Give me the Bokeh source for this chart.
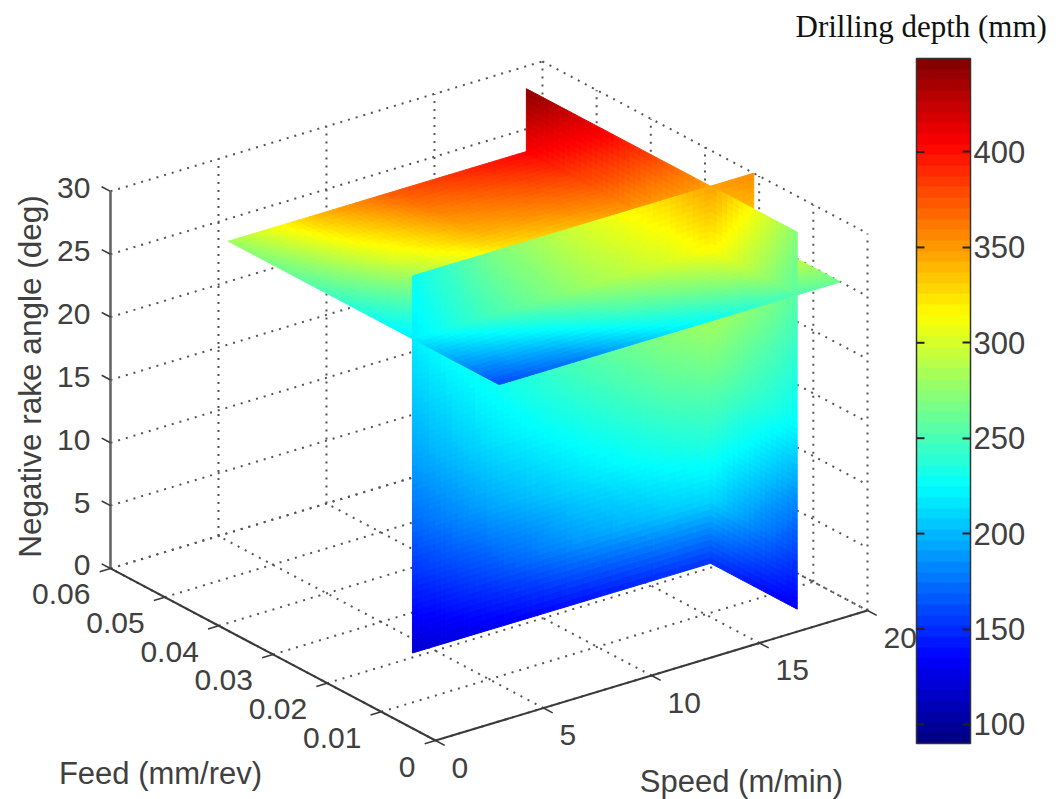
import numpy as np
from bokeh.plotting import figure
from bokeh.embed import file_html
from bokeh.resources import INLINE
from bokeh.core.properties import value
from bokeh.models import ColorBar, FixedTicker, LinearColorMapper, ColumnDataSource
from bokeh.transform import transform

# ---------- axis ticks ----------
speed_ticks = [0, 5, 10, 15, 20]
feed_ticks = [0, 0.01, 0.02, 0.03, 0.04, 0.05, 0.06]
angle_ticks = [0, 5, 10, 15, 20, 25, 30]
speed_labels = ["0", "5", "10", "15", "20"]
feed_labels = ["0", "0.01", "0.02", "0.03", "0.04", "0.05", "0.06"]
angle_labels = ["0", "5", "10", "15", "20", "25", "30"]
depth_ticks = [100, 150, 200, 250, 300, 350, 400]
depth_low, depth_high = 90, 449

# ---------- slice positions ----------
speed_slice = 18
feed_slice = 0.021
angle_slice = 25

# ---------- drilling depth ----------
speed_nodes = [4.2, 8, 12, 16, 18, 20]
feed_nodes = [0.005, 0.013, 0.021, 0.03, 0.04, 0.055]
angle_nodes = [0, 5, 10, 15, 20, 25, 30]

# feed = feed_slice: rows angle, columns speed
depth_feed_slice = [
    [118, 130, 140, 150, 152, 155],
    [145, 165, 190, 205, 210, 212],
    [170, 195, 215, 232, 238, 240],
    [190, 215, 235, 255, 262, 265],
    [205, 230, 255, 275, 285, 290],
    [218, 250, 278, 300, 315, 325],
    [228, 268, 300, 328, 348, 355],
]
# speed = speed_slice: rows angle, columns feed
depth_speed_slice = [
    [130, 140, 152, 165, 180, 200],
    [160, 185, 210, 225, 240, 260],
    [192, 215, 238, 255, 270, 295],
    [225, 243, 262, 280, 300, 330],
    [240, 262, 285, 305, 330, 365],
    [255, 285, 315, 335, 365, 405],
    [272, 310, 348, 375, 405, 445],
]
# angle = angle_slice: rows feed, columns speed
depth_angle_slice = [
    [160, 178, 213, 240, 252, 262],
    [190, 215, 248, 272, 285, 292],
    [218, 250, 278, 300, 315, 325],
    [235, 270, 305, 325, 335, 345],
    [255, 300, 340, 358, 365, 372],
    [280, 335, 375, 395, 405, 415],
]

speed_max, feed_max, angle_max = speed_ticks[-1], feed_ticks[-1], angle_ticks[-1]


def jet(n):
    t = (np.arange(n) + 0.5) / n
    r = np.clip(np.minimum(4 * t - 1.5, -4 * t + 4.5), 0, 1)
    g = np.clip(np.minimum(4 * t - 0.5, -4 * t + 3.5), 0, 1)
    b = np.clip(np.minimum(4 * t + 0.5, -4 * t + 2.5), 0, 1)
    return ["#%02x%02x%02x" % (round(a * 255), round(c * 255), round(d * 255)) for a, c, d in zip(r, g, b)]


def px(s, f, z):
    """Orthographic projection of (speed, feed, angle) on the page."""
    s, f, z = np.asarray(s, float), np.asarray(f, float), np.asarray(z, float)
    return 435 + 21.6 * s - 5417 * f, 740 - 6.5 * s - 2867 * f - 12.57 * z


WIDTH, HEIGHT = 1060, 799
p = figure(width=WIDTH, height=HEIGHT, x_range=(0, WIDTH), y_range=(HEIGHT, 0),
           output_backend="svg", toolbar_location=None,
           x_axis_location=None, y_axis_location=None, min_border=0, outline_line_color=None)
p.grid.visible = False

# ---------- dotted box ----------
DOT = dict(line_color="#555555", line_width=2, line_dash="2 6")


def seg(a, b, **kw):
    a = np.array(a, float).T
    b = np.array(b, float).T
    x0, y0 = px(*a)
    x1, y1 = px(*b)
    p.segment(x0, y0, x1, y1, **kw)


seg([(s, 0, 0) for s in speed_ticks], [(s, feed_max, 0) for s in speed_ticks], **DOT)
seg([(0, f, 0) for f in feed_ticks], [(speed_max, f, 0) for f in feed_ticks], **DOT)
seg([(0, feed_max, z) for z in angle_ticks], [(speed_max, feed_max, z) for z in angle_ticks], **DOT)
seg([(speed_max, feed_max, z) for z in angle_ticks], [(speed_max, 0, z) for z in angle_ticks], **DOT)
seg([(s, feed_max, 0) for s in speed_ticks[1:]], [(s, feed_max, angle_max) for s in speed_ticks[1:]], **DOT)
seg([(speed_max, f, 0) for f in feed_ticks[:-1]], [(speed_max, f, angle_max) for f in feed_ticks[:-1]], **DOT)

# ---------- slices, painted back to front ----------
mapper = LinearColorMapper(palette=jet(256), low=depth_low, high=depth_high)
STEP = 6.0


def nodes(lo, hi, scale):
    n = max(1, int(round(abs(hi - lo) * scale / STEP)))
    return np.linspace(lo, hi, n + 1)


def shaded(table, rows, cols, r_lo, r_hi, c_lo, c_hi, r_scale, c_scale, to3d):
    """Gouraud-like shading of one slice piece between its table nodes."""
    table = np.array(table, float)
    rr, cc = nodes(r_lo, r_hi, r_scale), nodes(c_lo, c_hi, c_scale)
    by_col = np.array([np.interp(cc, cols, row) for row in table])
    vals = np.array([np.interp(rr, rows, by_col[:, j]) for j in range(len(cc))]).T
    xs, ys, ds = [], [], []
    for i in range(len(rr) - 1):
        for j in range(len(cc) - 1):
            rq = [rr[i], rr[i], rr[i + 1], rr[i + 1]]
            cq = [cc[j], cc[j + 1], cc[j + 1], cc[j]]
            x, y = px(*to3d(np.array(rq), np.array(cq)))
            xs.append(x.tolist())
            ys.append(y.tolist())
            ds.append((vals[i, j] + vals[i, j + 1] + vals[i + 1, j] + vals[i + 1, j + 1]) / 4)
    src = ColumnDataSource(dict(xs=xs, ys=ys, d=ds))
    c = transform("d", mapper)
    p.patches("xs", "ys", source=src, fill_color=c, line_color=c, line_width=1)


S_SCALE, F_SCALE, Z_SCALE = 22.5, 6000.0, 12.57
s0, s1 = speed_nodes[0], speed_nodes[-1]
f0, f1 = feed_nodes[0], feed_nodes[-1]
z0, z1 = angle_nodes[0], angle_nodes[-1]


def s_piece(z_a, z_b, f_a, f_b):
    shaded(depth_speed_slice, angle_nodes, feed_nodes, z_a, z_b, f_a, f_b, Z_SCALE, F_SCALE,
           lambda r, c: (np.full(4, speed_slice), c, r))


def f_piece(z_a, z_b, s_a, s_b):
    shaded(depth_feed_slice, angle_nodes, speed_nodes, z_a, z_b, s_a, s_b, Z_SCALE, S_SCALE,
           lambda r, c: (c, np.full(4, feed_slice), r))


def a_piece(f_a, f_b, s_a, s_b):
    shaded(depth_angle_slice, feed_nodes, speed_nodes, f_a, f_b, s_a, s_b, F_SCALE, S_SCALE,
           lambda r, c: (c, r, np.full(4, angle_slice)))


# below the horizontal slice
s_piece(z0, angle_slice, feed_slice, f1)
f_piece(z0, angle_slice, speed_slice, s1)
f_piece(z0, angle_slice, s0, speed_slice)
s_piece(z0, angle_slice, f0, feed_slice)
# horizontal slice
a_piece(f0, f1, s0, s1)
# above the horizontal slice
s_piece(angle_slice, z1, feed_slice, f1)
f_piece(angle_slice, z1, speed_slice, s1)
f_piece(angle_slice, z1, s0, speed_slice)
s_piece(angle_slice, z1, f0, feed_slice)

# ---------- axes ----------
AX = dict(line_color="#3a3a3a", line_width=2)
seg([(0, feed_max, 0)], [(0, feed_max, angle_max)], line_color="#666666", line_width=2.6)
seg([(0, feed_max, 0)], [(0, 0, 0)], **AX)
seg([(0, 0, 0)], [(speed_max, 0, 0)], **AX)
TICK = dict(line_color="#3a3a3a", line_width=1.6)
seg([(0, feed_max, z) for z in angle_ticks], [(0, feed_max * 1.027, z) for z in angle_ticks], **TICK)
seg([(0, f, 0) for f in feed_ticks], [(-0.5, f, 0) for f in feed_ticks], **TICK)
seg([(s, 0, 0) for s in speed_ticks], [(s, -0.0017, 0) for s in speed_ticks], **TICK)

TXT = dict(text_font=value("Liberation Sans"), text_font_size="30px", text_color="#404040",
           text_baseline="middle")
xt, yt = px(np.zeros(len(angle_ticks)), np.full(len(angle_ticks), feed_max), angle_ticks)
p.text(xt - 20, yt - 3, text=angle_labels, text_align="right", **TXT)
xt, yt = px(np.zeros(len(feed_ticks)), feed_ticks, np.zeros(len(feed_ticks)))
p.text(xt - 20, yt + 26, text=feed_labels, text_align="right", **TXT)
xt, yt = px(speed_ticks, np.zeros(len(speed_ticks)), np.zeros(len(speed_ticks)))
p.text(xt + 16, yt + 27, text=speed_labels, text_align="left", **TXT)

LAB = dict(TXT)
LAB["text_font_size"] = "31px"
p.text([160], [773], text=["Feed (mm/rev)"], text_align="center", **LAB)
p.text([741], [781], text=["Speed (m/min)"], text_align="center", **LAB)
LAB2 = dict(LAB)
LAB2["text_font_size"] = "31.5px"
p.text([29], [376], text=["Negative rake angle (deg)"], text_align="center", angle=np.pi / 2, **LAB2)
p.text([795], [26], text=["Drilling depth (mm)"], text_align="left", text_baseline="middle",
       text_font=value("Liberation Serif"), text_font_size="31px", text_color="#111111")

# ---------- colour bar ----------
BAR_LEFT, BAR_RIGHT, BAR_TOP, BAR_BOTTOM = 916, 970, 58, 743
bar_mapper = LinearColorMapper(palette=jet(64), low=depth_low, high=depth_high)
bar = ColorBar(color_mapper=bar_mapper, ticker=FixedTicker(ticks=depth_ticks),
               width=BAR_RIGHT - BAR_LEFT, height=BAR_BOTTOM - BAR_TOP,
               location=(BAR_LEFT, HEIGHT - BAR_BOTTOM), padding=0, margin=0,
               background_fill_color=None, border_line_color=None,
               bar_line_color="#333333", bar_line_width=1.5,
               major_tick_in=8, major_tick_out=0, major_tick_line_color="#222222", major_tick_line_width=2,
               minor_tick_line_color=None, label_standoff=3,
               major_label_text_font="Liberation Sans", major_label_text_font_size="31px",
               major_label_text_color="#404040")
p.add_layout(bar, "center")
dt = np.array(depth_ticks, float)
yb = BAR_BOTTOM - (dt - depth_low) / (depth_high - depth_low) * (BAR_BOTTOM - BAR_TOP)
p.segment(np.full(len(dt), BAR_LEFT), yb, np.full(len(dt), BAR_LEFT + 8), yb,
          line_color="#222222", line_width=2, level="overlay")

open("out.html", "w").write(file_html(p, INLINE))
